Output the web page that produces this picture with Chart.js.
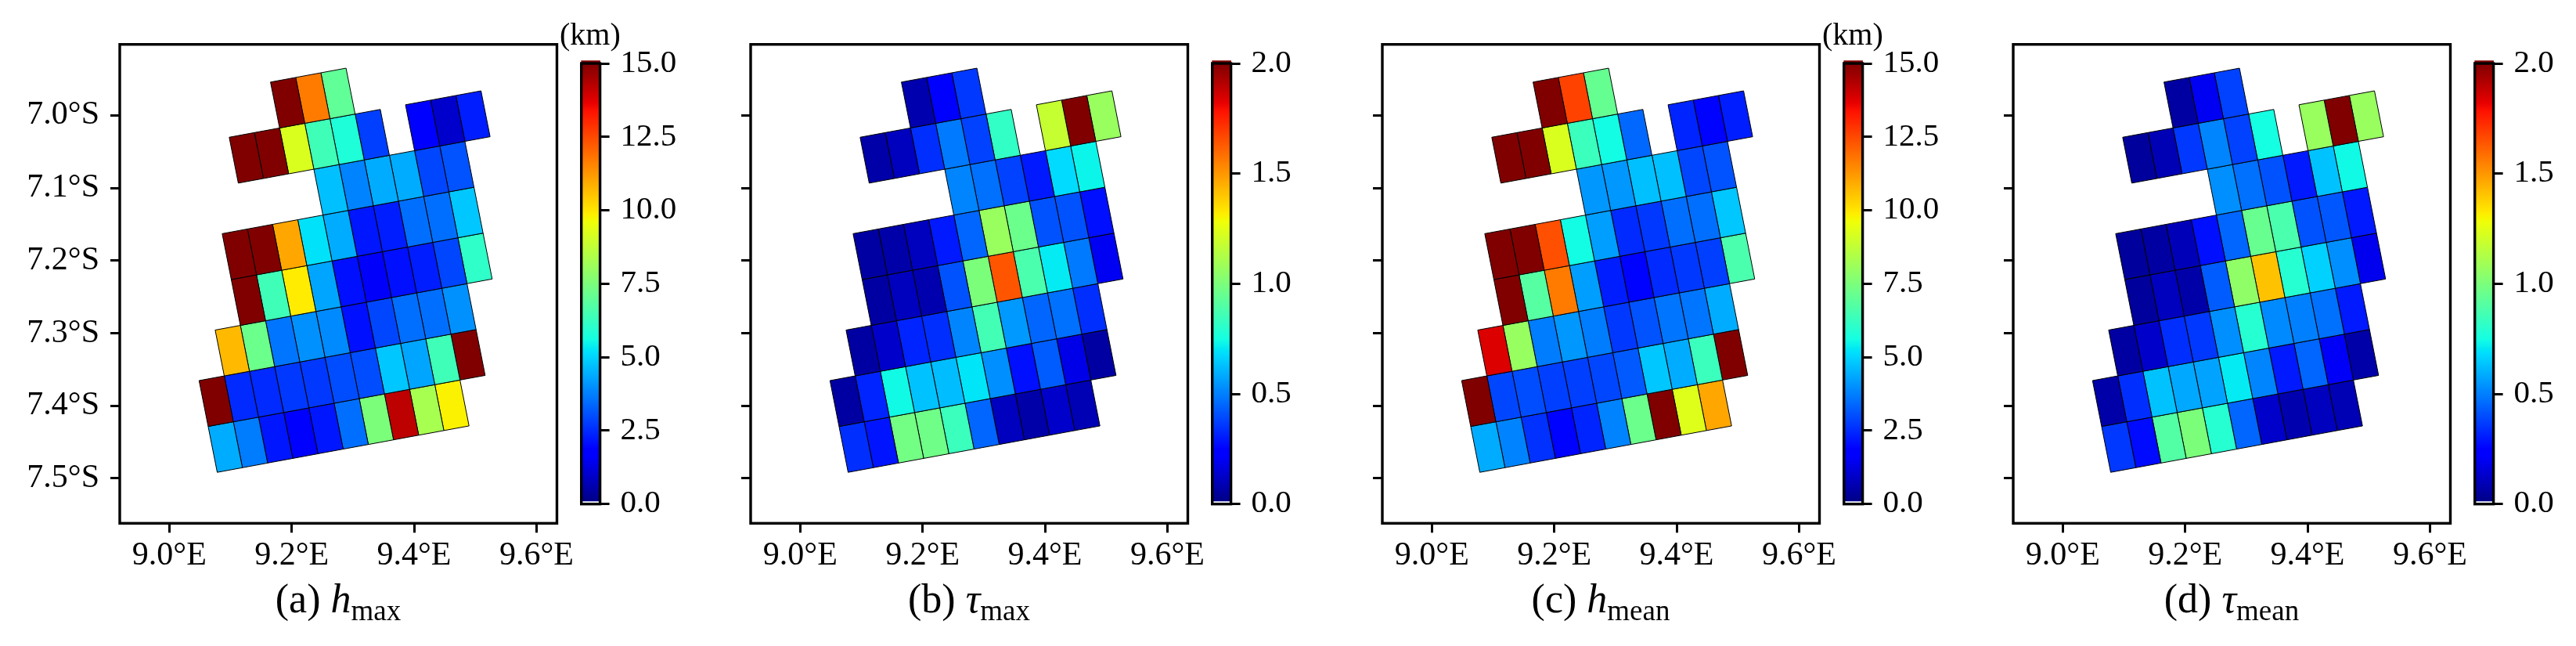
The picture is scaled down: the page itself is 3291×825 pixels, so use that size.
<!DOCTYPE html>
<html>
<head>
<meta charset="utf-8">
<title>Slip maps</title>
<script src="https://cdn.jsdelivr.net/npm/chart.js@4"></script>
<style>
  html, body { margin: 0; background: #fff; }
  #page { position: relative; width: 3291px; height: 825px; overflow: hidden; font-family: "Liberation Serif", serif; color: #000; }
  canvas { position: absolute; top: 0; }
  .caption { position: absolute; top: 735px; width: 558px; text-align: center; font-size: 52px; line-height: 60px; white-space: nowrap; }
  .caption sub { font-size: 37px; line-height: 0; vertical-align: -10px; }
  .unit { position: absolute; top: 21px; font-size: 40px; line-height: 46px; }
</style>
</head>
<body>
<div id="page"></div>
<script>
const _ = null;

// cell values, top row of the fault grid first, 13 columns
const hMax = [
  [_, _, _, _, _, 15, 11.7, 7.0, _, _, _, _, _],
  [_, _, _, 15, 15, 9.2, 6.4, 5.8, 2.8, _, 1.8, 1.0, 2.3],
  [_, _, _, _, _, _, 4.7, 3.8, 4.4, 4.4, 2.9, 3.1, _],
  [_, _, 15, 15, 11, 5.2, 4.4, 2.2, 2.3, 3.5, 3.5, 4.8, _],
  [_, _, 15, 6.4, 9.9, 4.3, 2.1, 1.6, 2.1, 2.3, 2.9, 6.1, _],
  [_, 10.7, 7.2, 3.6, 4.0, 3.9, 2.1, 2.9, 3.5, 3.5, 4.0, _, _],
  [15, 2.5, 2.5, 2.7, 2.7, 3.0, 3.0, 4.8, 4.3, 6.4, 15, _, _],
  [4.4, 3.7, 2.2, 1.8, 2.2, 3.5, 7.5, 14.2, 8.3, 9.8, _, _, _]
];
const tauMax = [
  [_, _, _, _, _, 0.08, 0.22, 0.36, _, _, _, _, _],
  [_, _, _, 0.07, 0.11, 0.34, 0.49, 0.38, 0.82, _, 1.18, 2.0, 1.07],
  [_, _, _, _, _, _, 0.51, 0.47, 0.38, 0.30, 0.68, 0.73, _],
  [_, _, 0.06, 0.07, 0.11, 0.30, 0.45, 1.07, 0.96, 0.41, 0.41, 0.28, _],
  [_, _, 0.06, 0.11, 0.08, 0.41, 1.0, 1.64, 0.88, 0.71, 0.49, 0.20, _],
  [_, 0.06, 0.13, 0.32, 0.34, 0.51, 0.86, 0.55, 0.45, 0.47, 0.34, _, _],
  [0.06, 0.32, 0.74, 0.63, 0.62, 0.70, 0.53, 0.28, 0.43, 0.18, 0.06, _, _],
  [0.34, 0.29, 0.98, 0.97, 0.84, 0.45, 0.11, 0.07, 0.13, 0.09, _, _, _]
];
const hMean = [
  [_, _, _, _, _, 15, 12.6, 7.1, _, _, _, _, _],
  [_, _, _, 15, 15, 9.2, 6.3, 5.6, 3.4, _, 2.4, 1.9, 2.3],
  [_, _, _, _, _, _, 4.1, 4.1, 4.7, 4.7, 2.9, 3.1, _],
  [_, _, 15, 15, 12.4, 5.6, 4.2, 2.5, 2.7, 3.5, 3.5, 4.8, _],
  [_, _, 15, 6.8, 11.7, 4.2, 2.3, 1.9, 2.5, 2.7, 2.8, 6.6, _],
  [_, 13.8, 8.0, 3.7, 4.1, 3.7, 2.7, 3.1, 3.6, 3.6, 4.4, _, _],
  [15, 2.9, 3.0, 2.8, 2.8, 2.9, 3.2, 4.8, 4.4, 6.3, 15, _, _],
  [4.4, 3.8, 2.6, 1.9, 2.4, 3.8, 7.2, 15, 9.3, 11, _, _, _]
];
const tauMean = [
  [_, _, _, _, _, 0.06, 0.20, 0.38, _, _, _, _, _],
  [_, _, _, 0.05, 0.09, 0.36, 0.51, 0.38, 0.75, _, 1.07, 2.0, 1.07],
  [_, _, _, _, _, _, 0.53, 0.47, 0.41, 0.30, 0.63, 0.74, _],
  [_, _, 0.05, 0.06, 0.10, 0.28, 0.45, 0.95, 0.88, 0.41, 0.42, 0.30, _],
  [_, _, 0.05, 0.11, 0.07, 0.43, 1.05, 1.41, 0.79, 0.66, 0.53, 0.19, _],
  [_, 0.06, 0.13, 0.34, 0.36, 0.53, 0.79, 0.52, 0.50, 0.47, 0.30, _, _],
  [0.07, 0.34, 0.63, 0.58, 0.57, 0.71, 0.51, 0.30, 0.45, 0.21, 0.07, _, _],
  [0.36, 0.27, 0.90, 1.0, 0.79, 0.45, 0.13, 0.08, 0.11, 0.09, _, _, _]
];

const lonTicks = [9.0, 9.2, 9.4, 9.6];
const latTicks = [-7.0, -7.1, -7.2, -7.3, -7.4, -7.5];
const hTicks = [0, 2.5, 5, 7.5, 10, 12.5, 15];
const tauTicks = [0, 0.5, 1, 1.5, 2];

// south-west corner of the grid and the lon/lat step along a column and along a row
const gridLon = 9.0783, gridLat = -7.4916;
const colStepLon = 0.04115, colStepLat = 0.00639;
const rowStepLon = -0.01484, rowStepLat = 0.06318;

const panels = [
  { caption: '(a) <i>h</i><sub>max</sub>', values: hMax, vmax: 15, cbTicks: hTicks, unit: '(km)', yLabels: true },
  { caption: '(b) <i>τ</i><sub>max</sub>', values: tauMax, vmax: 2, cbTicks: tauTicks, unit: '', yLabels: false },
  { caption: '(c) <i>h</i><sub>mean</sub>', values: hMean, vmax: 15, cbTicks: hTicks, unit: '(km)', yLabels: false },
  { caption: '(d) <i>τ</i><sub>mean</sub>', values: tauMean, vmax: 2, cbTicks: tauTicks, unit: '', yLabels: false }
];
const panelLeft = [0, 806, 1613, 2419];

const fontName = '"Liberation Serif"';

// matplotlib jet
const jetR = [[0, 0], [0.35, 0], [0.66, 1], [0.89, 1], [1, 0.5]];
const jetG = [[0, 0], [0.125, 0], [0.375, 1], [0.64, 1], [0.91, 0], [1, 0]];
const jetB = [[0, 0.5], [0.11, 1], [0.34, 1], [0.65, 0], [1, 0]];

function channel(table, t) {
  for (var i = 1; i < table.length; i++) {
    if (t <= table[i][0]) {
      var a = table[i - 1], b = table[i];
      return a[1] + (b[1] - a[1]) * (t - a[0]) / (b[0] - a[0]);
    }
  }
  return table[table.length - 1][1];
}

function jet(t) {
  t = Math.min(1, Math.max(0, t));
  return 'rgb(' + Math.round(channel(jetR, t) * 255) + ',' + Math.round(channel(jetG, t) * 255) + ',' + Math.round(channel(jetB, t) * 255) + ')';
}

function corner(col, row) {
  return {
    x: gridLon + col * colStepLon + row * rowStepLon,
    y: gridLat + col * colStepLat + row * rowStepLat
  };
}

function cellDatasets(values, vmax) {
  var sets = [];
  values.forEach(function (line, r) {
    var row = values.length - 1 - r;
    line.forEach(function (v, col) {
      if (v === null) return;
      sets.push({
        data: [corner(col, row), corner(col + 1, row), corner(col + 1, row + 1), corner(col, row + 1), corner(col, row)],
        showLine: true,
        fill: 'shape',
        backgroundColor: jet(v / vmax),
        borderColor: '#000',
        borderWidth: 1,
        pointRadius: 0,
        tension: 0,
        clip: false
      });
    });
  });
  return sets;
}

// box around the plot area
const framePlugin = {
  id: 'frame',
  afterDraw: function (chart) {
    var a = chart.chartArea, ctx = chart.ctx;
    ctx.save();
    ctx.strokeStyle = '#000';
    ctx.lineWidth = 3.4;
    ctx.strokeRect(a.left, a.top, a.right - a.left, a.bottom - a.top);
    ctx.restore();
  }
};

function tickGrid() {
  return { drawOnChartArea: false, drawTicks: true, tickLength: 12, tickWidth: 3, tickColor: '#000', color: '#000' };
}

function drawMap(left, p) {
  var cv = document.createElement('canvas');
  cv.width = 800; cv.height = 825;
  cv.style.left = left + 'px';
  document.getElementById('page').appendChild(cv);
  new Chart(cv.getContext('2d'), {
    type: 'scatter',
    data: { datasets: cellDatasets(p.values, p.vmax) },
    options: {
      responsive: false,
      animation: false,
      layout: { padding: { left: 0, top: 56.7, right: 88.5, bottom: 56.7 } },
      plugins: { legend: { display: false }, tooltip: { enabled: false } },
      scales: {
        x: {
          type: 'linear', min: 8.919, max: 9.6334,
          afterBuildTicks: function (s) { s.ticks = lonTicks.map(function (v) { return { value: v }; }); },
          afterFit: function (s) { s.height = 100; },
          grid: tickGrid(),
          border: { display: false },
          ticks: {
            color: '#000', padding: 4, maxRotation: 0, autoSkip: false,
            font: { family: fontName, size: 42 },
            callback: function (v) { return v.toFixed(1) + '°E'; }
          }
        },
        y: {
          type: 'linear', min: -7.5618, max: -6.9023,
          afterBuildTicks: function (s) { s.ticks = latTicks.map(function (v) { return { value: v }; }); },
          afterFit: function (s) { s.width = 153; },
          grid: tickGrid(),
          border: { display: false },
          ticks: {
            display: p.yLabels, color: '#000', padding: 14, autoSkip: false,
            font: { family: fontName, size: 42 },
            callback: function (v) { return Math.abs(v).toFixed(1) + '°S'; }
          }
        }
      }
    },
    plugins: [framePlugin]
  });
}

function drawColorbar(left, p) {
  var cv = document.createElement('canvas');
  cv.width = 160; cv.height = 825;
  cv.style.left = (left + 720) + 'px';
  document.getElementById('page').appendChild(cv);
  new Chart(cv.getContext('2d'), {
    type: 'bar',
    data: {
      labels: [''],
      datasets: [{
        data: [[p.vmax * 0.0066, p.vmax * 1.006]],
        barPercentage: 1,
        categoryPercentage: 1,
        clip: false,
        backgroundColor: function (ctx) {
          var s = ctx.chart.scales.y;
          var y0 = s ? s.getPixelForValue(0) : NaN;
          var y1 = s ? s.getPixelForValue(p.vmax) : NaN;
          // the scale has no pixels yet on the first pass
          if (!isFinite(y0) || !isFinite(y1)) return '#000';
          var g = ctx.chart.ctx.createLinearGradient(0, y0, 0, y1);
          for (var i = 0; i <= 256; i++) g.addColorStop(i / 256, jet(i / 256));
          return g;
        }
      }]
    },
    options: {
      responsive: false,
      animation: false,
      layout: { padding: { left: 22.7, top: 81, right: 13.4, bottom: 181.3 } },
      plugins: { legend: { display: false }, tooltip: { enabled: false } },
      scales: {
        x: { display: false },
        y: {
          type: 'linear', position: 'right', min: 0, max: p.vmax,
          afterBuildTicks: function (s) { s.ticks = p.cbTicks.map(function (v) { return { value: v }; }); },
          afterFit: function (s) { s.width = 100; },
          grid: tickGrid(),
          border: { display: false },
          ticks: {
            color: '#000', padding: 14, autoSkip: false,
            font: { family: fontName, size: 41 },
            callback: function (v) { return v.toFixed(1); }
          }
        }
      }
    },
    plugins: [framePlugin]
  });
}

panels.forEach(function (p, i) {
  var left = panelLeft[i];
  drawMap(left, p);
  drawColorbar(left, p);

  var cap = document.createElement('div');
  cap.className = 'caption';
  cap.style.left = (left + 153) + 'px';
  cap.innerHTML = p.caption;
  document.getElementById('page').appendChild(cap);

  if (p.unit) {
    var u = document.createElement('div');
    u.className = 'unit';
    u.style.left = (left + 715) + 'px';
    u.textContent = p.unit;
    document.getElementById('page').appendChild(u);
  }
});
</script>
</body>
</html>
